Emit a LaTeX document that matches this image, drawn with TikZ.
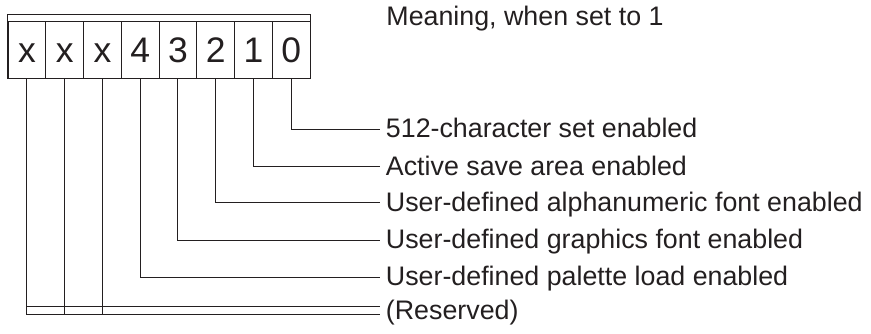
\documentclass[tikz,border=0pt]{standalone}
\usepackage{fontspec}
\setmainfont{Liberation Sans}
\usetikzlibrary{positioning}
\definecolor{ink}{RGB}{35,31,32}
\tikzset{
  cell/.style={draw=ink, text=ink, minimum width=37.75pt, minimum height=57pt,
    inner sep=0pt, text height=25pt, text depth=0pt,
    font=\fontsize{35.5}{40}\selectfont},
  meaning/.style={anchor=west, text=ink, inner xsep=5.5pt, inner ysep=0pt,
    text height=17pt, text depth=0pt, font=\fontsize{26.8}{30}\selectfont},
  wire/.style={draw=ink, line width=0.9pt}
}
\begin{document}
\begin{tikzpicture}[x=1pt, y=-1pt, line width=0.9pt]
\useasboundingbox (0,0) rectangle (871,333);
    % register cells, bit 7 left
    \foreach \lbl/\n in {x/7,x/6,x/5,4/4,3/3,2/2,1/1,0/0} {
        \node[cell] (b\n) at ({8+37.75*(7.5-\n)},49.5) {\lbl};
    }
    \draw[ink] ([yshift=6pt]b7.north west) rectangle (b0.south east);
    \node[anchor=base west, inner sep=0pt, text=ink, font=\fontsize{26.8}{30}\selectfont]
        (head) at (386,25) {Meaning, when set to 1};

    % meanings of the bits
    \foreach \n/\txt/\y in {0/{512-character set enabled}/129.3,
                            1/{Active save area enabled}/166.7,
                            2/{User-defined alphanumeric font enabled}/202.7,
                            3/{User-defined graphics font enabled}/240,
                            4/{User-defined palette load enabled}/277.3} {
        \node[meaning] (m\n) at (380,\y) {\txt};
        \draw[wire] (b\n.south) |- (m\n.west);
    }

    % reserved bits
    \node[meaning] (res) at (380,310.7) {(Reserved)};
    \coordinate (rtop) at ([yshift=4pt]res.west);
    \coordinate (rbot) at ([yshift=-4pt]res.west);
    \draw[wire] (b7.south) |- (rbot);
    \draw[wire] (rtop -| b7.south) -- (rtop);
    \foreach \n in {6,5} {
        \draw[wire] (b\n.south) -- (rbot -| b\n.south);
    }
\end{tikzpicture}
\end{document}
